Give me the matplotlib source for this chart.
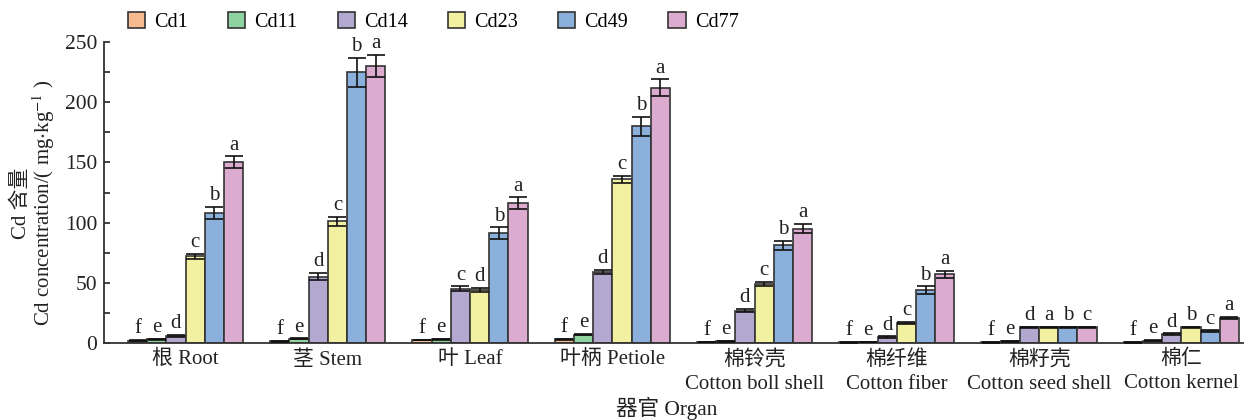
import numpy as np
import matplotlib
matplotlib.use('Agg')
from matplotlib import pyplot as plt
from matplotlib.ticker import MultipleLocator

plt.rcParams['font.family'] = ['Liberation Serif', 'Noto Sans CJK SC']
plt.rcParams['mathtext.fontset'] = 'stix'

# data
organs = ['根 Root', '茎 Stem', '叶 Leaf', '叶柄 Petiole', '棉铃壳\nCotton boll shell',
          '棉纤维\nCotton fiber', '棉籽壳\nCotton seed shell', '棉仁\nCotton kernel']
series = ['Cd1', 'Cd11', 'Cd14', 'Cd23', 'Cd49', 'Cd77']
colors = ['#F5BA8F', '#8FD3A0', '#B3A8CF', '#F1F1A1', '#8BB0DB', '#DCABD0']

cd1 = [2.0, 1.5, 2.5, 3.0, 0.8, 0.5, 0.5, 0.5]
cd11 = [3.0, 3.5, 3.0, 7.0, 1.5, 0.8, 1.5, 2.0]
cd14 = [6.0, 55.0, 45.0, 59.0, 27.0, 5.0, 13.0, 7.5]
cd23 = [72.0, 101.0, 44.0, 136.0, 49.0, 16.5, 13.0, 13.0]
cd49 = [108.0, 225.0, 91.0, 180.0, 81.0, 44.0, 13.0, 10.0]
cd77 = [150.0, 230.0, 116.0, 212.0, 95.0, 57.0, 13.0, 21.0]

err1 = [0.3, 0.3, 0.3, 0.3, 0.2, 0.2, 0.2, 0.2]
err11 = [0.4, 0.4, 0.4, 0.5, 0.3, 0.2, 0.3, 0.3]
err14 = [0.6, 3.0, 2.0, 2.0, 1.5, 0.5, 0.5, 0.5]
err23 = [2.0, 4.0, 2.0, 3.0, 2.0, 1.0, 0.5, 0.5]
err49 = [5.0, 12.0, 5.0, 8.0, 4.0, 3.0, 0.5, 0.5]
err77 = [5.0, 9.0, 5.0, 7.0, 4.0, 3.0, 0.5, 1.0]

lab1 = ['f'] * 8
lab11 = ['e'] * 8
lab14 = ['d', 'd', 'c', 'd', 'd', 'd', 'd', 'd']
lab23 = ['c', 'c', 'd', 'c', 'c', 'c', 'a', 'b']
lab49 = ['b', 'b', 'b', 'b', 'b', 'b', 'b', 'c']
lab77 = ['a', 'a', 'a', 'a', 'a', 'a', 'c', 'a']

values = [cd1, cd11, cd14, cd23, cd49, cd77]
errors = [err1, err11, err14, err23, err49, err77]
letters = [lab1, lab11, lab14, lab23, lab49, lab77]

fig = plt.figure(figsize=(12.47, 4.2), dpi=100)
ax = fig.add_axes([0.0834, 0.1833, 0.913, 0.7167])

x = np.arange(len(organs))
w = 0.135
for i in range(len(series)):
    pos = x + (i - 2.5) * w
    ax.bar(pos, values[i], w, color=colors[i], edgecolor='#333333', linewidth=1.2,
           label=series[i], zorder=2)
    ax.errorbar(pos, values[i], yerr=errors[i], fmt='none', ecolor='#111111',
                elinewidth=1.2, capsize=6.5, capthick=1.2, zorder=3)
    for j in range(len(organs)):
        ax.text(pos[j], values[i][j] + errors[i][j] + 1.5, letters[i][j],
                ha='center', va='bottom', fontsize=15, color='#222222')

ax.set_xlim(-0.573, 7.43)
ax.set_ylim(0, 250)
ax.yaxis.set_major_locator(MultipleLocator(50))
ax.yaxis.set_minor_locator(MultipleLocator(25))
ax.tick_params(axis='y', which='both', direction='in', length=4, width=1.2,
               labelsize=15.5, colors='#222222', pad=5)
ax.tick_params(axis='x', length=0, labelsize=15, pad=5, colors='#222222')
ax.set_xticks(x)
ax.set_xticklabels(organs, linespacing=1.35)
for s in ['top', 'right']:
    ax.spines[s].set_visible(False)
for s in ['left', 'bottom']:
    ax.spines[s].set_linewidth(1.3)
    ax.spines[s].set_color('#333333')

ax.set_ylabel('Cd 含量\nCd concentration/( mg$\\cdot$kg$^{-1}$ )', fontsize=15,
              linespacing=1.0, color='#222222')
ax.yaxis.set_label_coords(-0.041, 0.465)
fig.text(0.535, 0.0, '器官 Organ', ha='center', va='bottom', fontsize=15.5, color='#222222')

ax.legend(loc='lower left', bbox_to_anchor=(0.021, 1.033), ncol=6, frameon=False,
          fontsize=14.5, handlelength=0.85, handleheight=0.85, handletextpad=0.45,
          columnspacing=2.0, borderaxespad=0, borderpad=0)

plt.savefig('out.png', dpi=100)
